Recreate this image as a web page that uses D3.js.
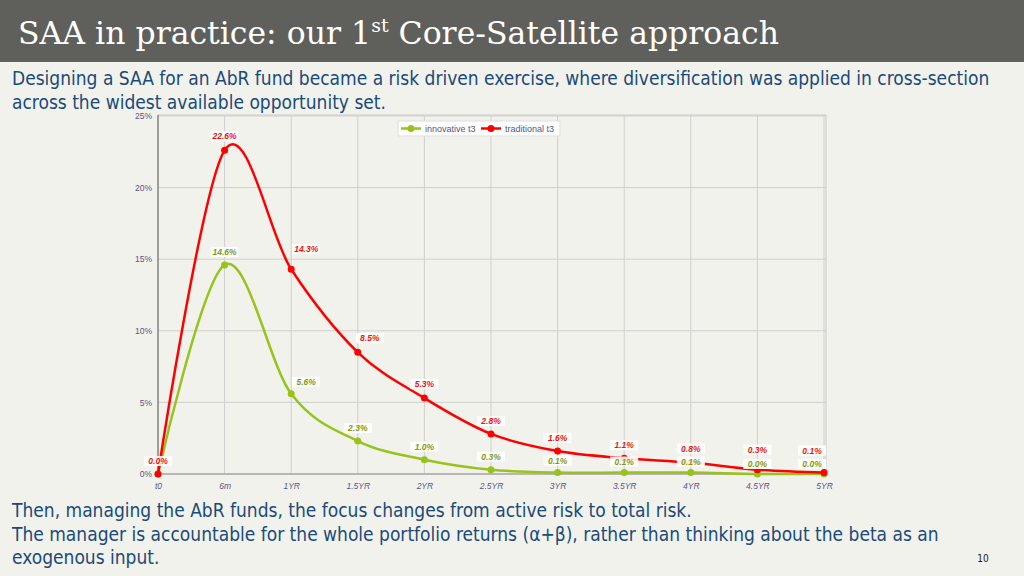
<!DOCTYPE html>
<html><head><meta charset="utf-8">
<script src="https://cdnjs.cloudflare.com/ajax/libs/d3/7.8.5/d3.min.js"></script>
<style>
html,body{margin:0;padding:0;background:#f2f2ec;}
svg{display:block;}
</style></head>
<body>
<svg id="c" width="1024" height="576"></svg>
<script>
const categories = ["t0","6m","1YR","1.5YR","2YR","2.5YR","3YR","3.5YR","4YR","4.5YR","5YR"];
const innovative = [0.0,14.6,5.6,2.3,1.0,0.3,0.1,0.1,0.1,0.0,0.0];
const traditional = [0.0,22.6,14.3,8.5,5.3,2.8,1.6,1.1,0.8,0.3,0.1];
const yTicks = [0,5,10,15,20,25];
const seriesNames = ["innovative t3","traditional t3"];
const titleText = "SAA in practice: our 1";
const titleSup = "st";
const titleRest = " Core-Satellite approach";
const introLines = ["Designing a SAA for an AbR fund became a risk driven exercise, where diversification was applied in cross-section","across the widest available opportunity set."];
const outroLines = ["Then, managing the AbR funds, the focus changes from active risk to total risk.","The manager is accountable for the whole portfolio returns (\u03b1+\u03b2), rather than thinking about the beta as an","exogenous input."];
const pageNum = "10";

// label offsets (layout only)
const tradLabelDx = [0,0,15,12,0,0,0,0,0,0,-12];
const tradLabelDy = [12,13,19,13,13,12,12,12,13,19,21];
const innoLabelDx = [0,0,15,0,0,0,0,0,0,0,-12];
const innoLabelDy = [12,12,11,12,12,12,11,10,10,9,9];

const svg = d3.select("#c");
svg.append("rect").attr("width",1024).attr("height",576).attr("fill","#f2f2ec");
svg.append("rect").attr("width",1024).attr("height",62).attr("fill","#5f605b");
const tt = svg.append("text").attr("x",18).attr("y",44).attr("fill","#fff")
  .attr("font-family","'DejaVu Serif', serif").attr("font-size",31.5);
tt.append("tspan").text(titleText);
tt.append("tspan").attr("dy",-12).attr("font-size",19).text(titleSup);
tt.append("tspan").attr("dy",12).text(titleRest);

const blue = "#1a4a7a";
const bodyFont = "'DejaVu Sans Condensed','DejaVu Sans',sans-serif";
introLines.forEach((l,i)=>svg.append("text").attr("x",12).attr("y",85+i*23.5).attr("fill",blue)
  .attr("font-family",bodyFont).attr("font-size",19).text(l));
outroLines.forEach((l,i)=>svg.append("text").attr("x",12).attr("y",517+i*23.5).attr("fill",blue)
  .attr("font-family",bodyFont).attr("font-size",19).text(l));
svg.append("text").attr("x",983).attr("y",562).attr("text-anchor","middle").attr("fill","#222")
  .attr("font-family",bodyFont).attr("font-size",10).text(pageNum);

const L=158,R=824,T=116,B=474;
const x = d3.scalePoint().domain(categories).range([L,R]);
const y = d3.scaleLinear().domain([0,25]).range([B,T]);
const g = svg.append("g");
const axisCol = "#55558a";
// grid
g.selectAll(".hg").data(yTicks).join("line").attr("x1",L).attr("x2",R+2)
  .attr("y1",d=>y(d)).attr("y2",d=>y(d)).attr("stroke","#cfcfcf").attr("stroke-width",1);
g.selectAll(".vg").data(categories).join("line").attr("x1",d=>x(d)).attr("x2",d=>x(d))
  .attr("y1",T).attr("y2",B).attr("stroke","#cfcfcf").attr("stroke-width",1);
g.append("rect").attr("x",L).attr("y",T-1).attr("width",R+2-L).attr("height",B-T+1)
  .attr("fill","none").attr("stroke","#c8c8c8");
g.append("line").attr("x1",L).attr("x2",L).attr("y1",T-1).attr("y2",B).attr("stroke","#666");
g.append("line").attr("x1",L).attr("x2",R+2).attr("y1",B).attr("y2",B).attr("stroke","#999");

const yAxis = d3.axisLeft(y).tickValues(yTicks).tickFormat(d=>d+"%").tickSize(0).tickPadding(6);
const ya = g.append("g").attr("transform",`translate(${L},0)`).call(yAxis);
ya.select(".domain").remove();
ya.selectAll("text").attr("fill",axisCol).attr("font-family","'Liberation Sans',Arial,sans-serif").attr("font-size",8.5);
const xAxis = d3.axisBottom(x).tickSize(0).tickPadding(9);
const xa = g.append("g").attr("transform",`translate(0,${B})`).call(xAxis);
xa.select(".domain").remove();
xa.selectAll("text").attr("fill",axisCol).attr("font-family","'Liberation Sans',Arial,sans-serif")
  .attr("font-size",8.5).attr("font-style","italic");

const red="#ff0000", green="#99c21a";
const line = d3.line().x((d,i)=>x(categories[i])).y(d=>y(d)).curve(d3.curveCatmullRom.alpha(0));
function drawSeries(vals,col){
  g.append("path").datum(vals).attr("d",line).attr("fill","none").attr("stroke",col).attr("stroke-width",2.5);
  g.selectAll(null).data(vals).join("circle").attr("cx",(d,i)=>x(categories[i])).attr("cy",d=>y(d))
    .attr("r",3.5).attr("fill",col);
}
function drawLabels(vals,labCol,dxs,dys,skipFirst){
  const lab = g.selectAll(null).data(vals.map((v,i)=>({v,i})).filter(d=>!(skipFirst&&d.i===0))).join("g")
    .attr("transform",d=>`translate(${x(categories[d.i])+dxs[d.i]},${y(d.v)-dys[d.i]})`);
  lab.append("rect").attr("x",-14).attr("y",-6).attr("width",28).attr("height",10).attr("fill","#fff").attr("opacity",0.9);
  lab.append("text").attr("text-anchor","middle").attr("y",2).attr("fill",labCol)
    .attr("font-family","'Liberation Sans',Arial,sans-serif").attr("font-size",8.5)
    .attr("font-weight","bold").attr("font-style","italic").text(d=>d.v.toFixed(1)+"%");
}
drawSeries(innovative,green);
drawSeries(traditional,red);
drawLabels(innovative,"#7f9a12",innoLabelDx,innoLabelDy,true);
drawLabels(traditional,"#ee1111",tradLabelDx,tradLabelDy,false);

// legend
const lg = g.append("g").attr("transform","translate(398,121)");
lg.append("rect").attr("width",162).attr("height",15).attr("fill","#fff").attr("stroke","#ddd");
[[green,seriesNames[0],3],[red,seriesNames[1],83]].forEach(([c,n,ox])=>{
  lg.append("line").attr("x1",ox).attr("x2",ox+20).attr("y1",7.5).attr("y2",7.5).attr("stroke",c).attr("stroke-width",2.5);
  lg.append("circle").attr("cx",ox+10).attr("cy",7.5).attr("r",3.5).attr("fill",c);
  lg.append("text").attr("x",ox+24).attr("y",10.5).attr("fill",axisCol)
    .attr("font-family","'Liberation Sans',Arial,sans-serif").attr("font-size",9).text(n);
});
</script>
</body></html>
